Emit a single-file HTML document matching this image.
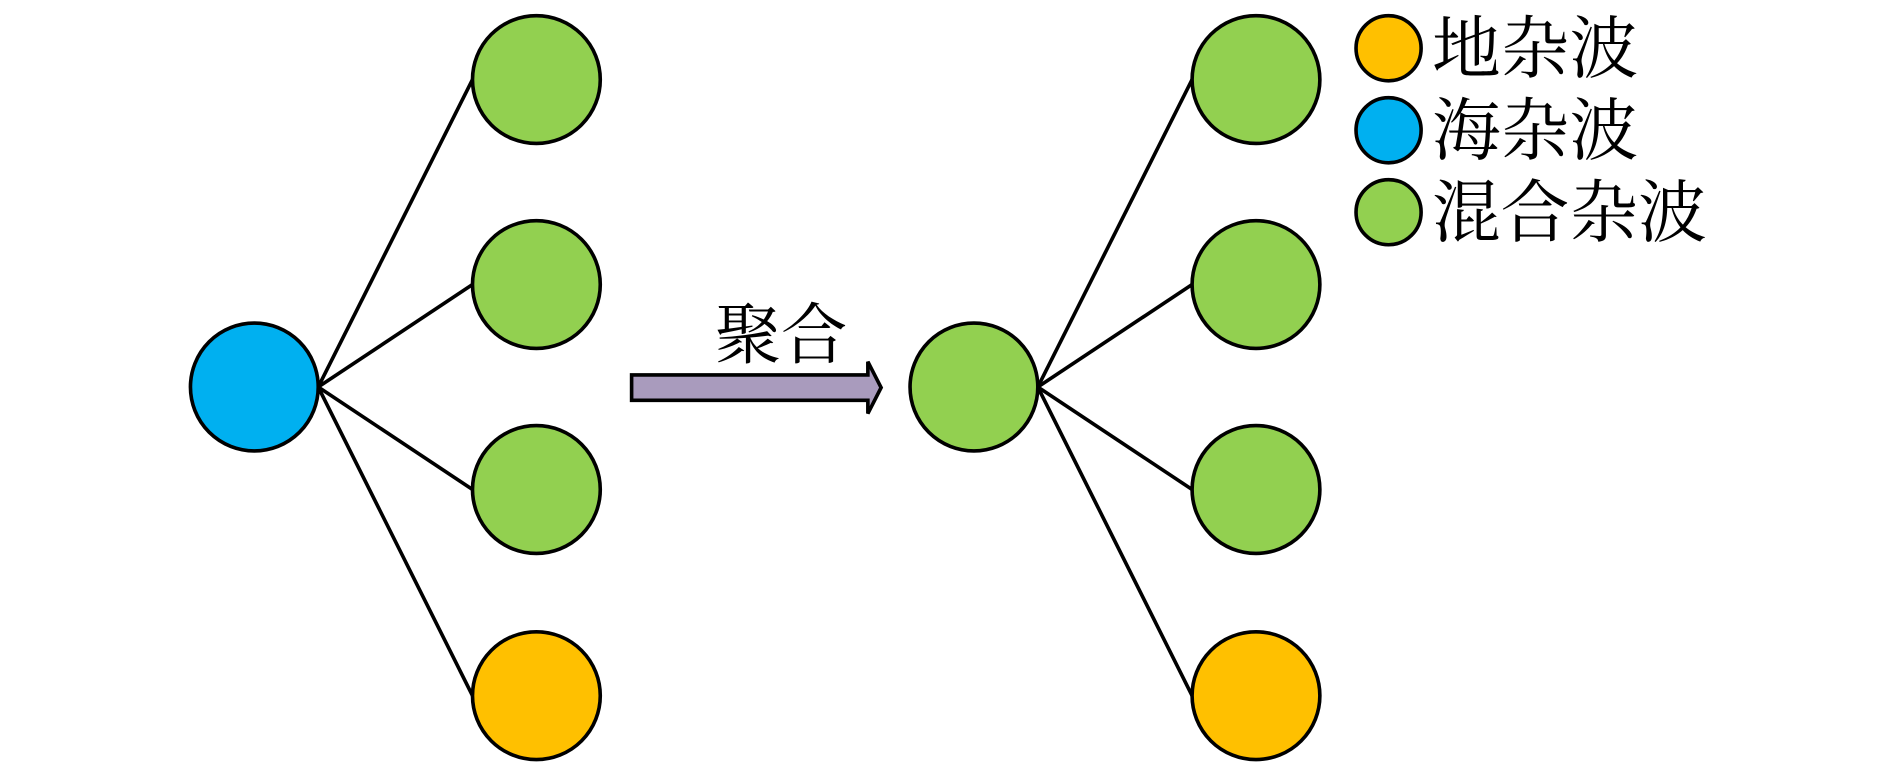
<!DOCTYPE html>
<html><head><meta charset="utf-8"><style>
html,body{margin:0;padding:0;background:#fff;width:1890px;height:768px;overflow:hidden}
svg{display:block}
text{font-family:"Liberation Serif","Noto Serif CJK SC",serif;fill:#000}
</style></head><body>
<svg width="1890" height="768" viewBox="0 0 1568 637" preserveAspectRatio="none" xmlns="http://www.w3.org/2000/svg">
<g stroke="#000" stroke-width="3" fill="none">
<line x1="264" y1="321" x2="392" y2="66"/>
<line x1="264" y1="321" x2="392" y2="236"/>
<line x1="264" y1="321" x2="392" y2="406"/>
<line x1="264" y1="321" x2="392" y2="577"/>
<line x1="861" y1="321" x2="989" y2="66"/>
<line x1="861" y1="321" x2="989" y2="236"/>
<line x1="861" y1="321" x2="989" y2="406"/>
<line x1="861" y1="321" x2="989" y2="577"/>
</g>
<g stroke="#000" stroke-width="3">
<circle cx="211" cy="321" r="53" fill="#00b0f0"/>
<circle cx="445" cy="66" r="53" fill="#92d050"/>
<circle cx="445" cy="236" r="53" fill="#92d050"/>
<circle cx="445" cy="406" r="53" fill="#92d050"/>
<circle cx="445" cy="577" r="53" fill="#ffc000"/>
<circle cx="808" cy="321" r="53" fill="#92d050"/>
<circle cx="1042" cy="66" r="53" fill="#92d050"/>
<circle cx="1042" cy="236" r="53" fill="#92d050"/>
<circle cx="1042" cy="406" r="53" fill="#92d050"/>
<circle cx="1042" cy="577" r="53" fill="#ffc000"/>
<circle cx="1152" cy="40" r="27" fill="#ffc000"/>
<circle cx="1152" cy="108" r="27" fill="#00b0f0"/>
<circle cx="1152" cy="176" r="27" fill="#92d050"/>
<path d="M524 311 H720 V300 L731 321.5 L720 343 V332 H524 Z" fill="#a99bbd"/>
</g>
<text x="593" y="297" font-size="55">聚合</text>
<text x="1188" y="60" font-size="57">地杂波</text>
<text x="1188" y="128" font-size="57">海杂波</text>
<text x="1188" y="196" font-size="57">混合杂波</text>
</svg>
</body></html>
